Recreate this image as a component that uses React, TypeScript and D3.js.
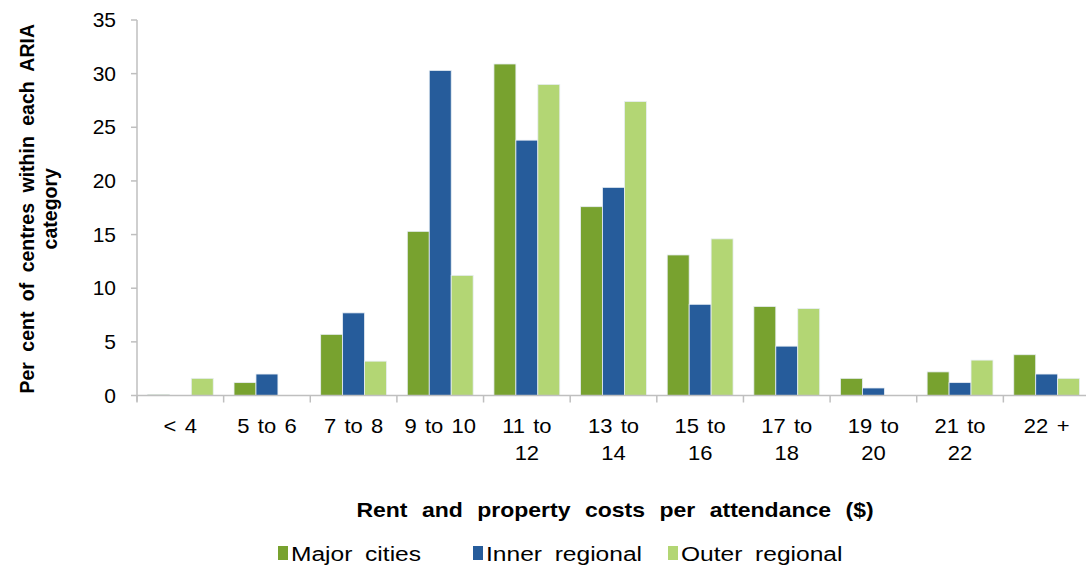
import * as d3 from 'd3';

const categories = ['< 4', '5 to 6', '7 to 8', '9 to 10', '11 to 12', '13 to 14', '15 to 16', '17 to 18', '19 to 20', '21 to 22', '22 +'];
// x tick labels as drawn, wrapped over two lines
const tickLines = [['< 4'], ['5 to 6'], ['7 to 8'], ['9 to 10'], ['11 to', '12'], ['13 to', '14'], ['15 to', '16'], ['17 to', '18'], ['19 to', '20'], ['21 to', '22'], ['22 +']];
const seriesNames = ['Major cities', 'Inner regional', 'Outer regional'];
const seriesColors = ['#78A22F', '#265C9B', '#B3D674'];
const majorCities = [0.1, 1.2, 5.7, 15.3, 30.9, 17.6, 13.1, 8.3, 1.6, 2.2, 3.8];
const innerRegional = [0, 2.0, 7.7, 30.3, 23.8, 19.4, 8.5, 4.6, 0.7, 1.2, 2.0];
const outerRegional = [1.6, 0, 3.2, 11.2, 29.0, 27.4, 14.6, 8.1, 0, 3.3, 1.6];
const yTicks = [0, 5, 10, 15, 20, 25, 30, 35];

const width = 1086;
const height = 569;
const left = 137;
const right = 1090;
const top = 20;
const bottom = 395.5;
const font = 'Liberation Sans, Arial, sans-serif';
// the reference text is a bit stretched sideways
const stretch = 1.1;

export default function App() {
  const values = [majorCities, innerRegional, outerRegional];
  const x = d3.scaleBand<string>().domain(categories).range([left, right]).paddingInner(0.24).paddingOuter(0.12);
  const xInner = d3.scaleBand<string>().domain(seriesNames).range([0, x.bandwidth()]);
  const y = d3.scaleLinear().domain([0, 35]).range([bottom, top]);
  const step = x.step();

  return (
    <svg width={width} height={height} style={{ position: 'absolute', left: 0, top: 0 }} fontFamily={font}>
      {/* bars */}
      {categories.map((c, i) => (
        <g key={c} transform={`translate(${x(c)},0)`}>
          {seriesNames.map((s, j) => {
            const v = values[j][i];
            if (!v) return null;
            return (
              <rect key={s} x={xInner(s)} y={y(v)} width={xInner.bandwidth()} height={y(0) - y(v)}
                fill={seriesColors[j]} stroke="#E8EEF4" strokeWidth={0.8} />
            );
          })}
        </g>
      ))}

      {/* y axis */}
      <line x1={left} x2={left} y1={top} y2={bottom + 6} stroke="#BFBFBF" strokeWidth={1.5} />
      {yTicks.map(t => (
        <g key={t}>
          <line x1={left - 6} x2={left} y1={y(t)} y2={y(t)} stroke="#BFBFBF" strokeWidth={1.5} />
          <text transform={`translate(${left - 21},${y(t)}) scale(1.05,1)`} dy="0.35em" textAnchor="end" fontSize={20}>{t}</text>
        </g>
      ))}

      {/* x axis */}
      <line x1={left} x2={right} y1={bottom} y2={bottom} stroke="#BFBFBF" strokeWidth={1.5} />
      {d3.range(categories.length + 1).map(k => (
        <line key={k} x1={left + k * step} x2={left + k * step} y1={bottom} y2={bottom + 7} stroke="#BFBFBF" strokeWidth={1.5} />
      ))}
      {categories.map((c, i) => (
        <text key={c} transform={`translate(${(x(c) as number) + x.bandwidth() / 2},433) scale(${stretch},1)`}
          textAnchor="middle" fontSize={20} wordSpacing={2}>
          {tickLines[i].map((ln, k) => (
            <tspan key={k} x={0} dy={k === 0 ? 0 : 27}>{ln}</tspan>
          ))}
        </text>
      ))}

      {/* axis titles */}
      <text transform="translate(615,517) scale(1.15,1)" textAnchor="middle" fontSize={20} fontWeight="bold" wordSpacing={7}>
        Rent and property costs per attendance ($)
      </text>
      <text transform={`translate(34,${(top + bottom) / 2 + 1}) rotate(-90)`} textAnchor="middle" fontSize={19.5} fontWeight="bold" wordSpacing={5}>
        <tspan x={0} dy={0}>Per cent of centres within each ARIA</tspan>
        <tspan x={0} dy={23}>category</tspan>
      </text>

      {/* legend */}
      {seriesNames.map((s, j) => (
        <g key={s} transform={`translate(${278 + j * 195},0)`}>
          <rect x={0} y={546} width={10} height={14} fill={seriesColors[j]} />
          <text transform="translate(13,561) scale(1.17,1)" fontSize={21} wordSpacing={5}>{s}</text>
        </g>
      ))}
    </svg>
  );
}
